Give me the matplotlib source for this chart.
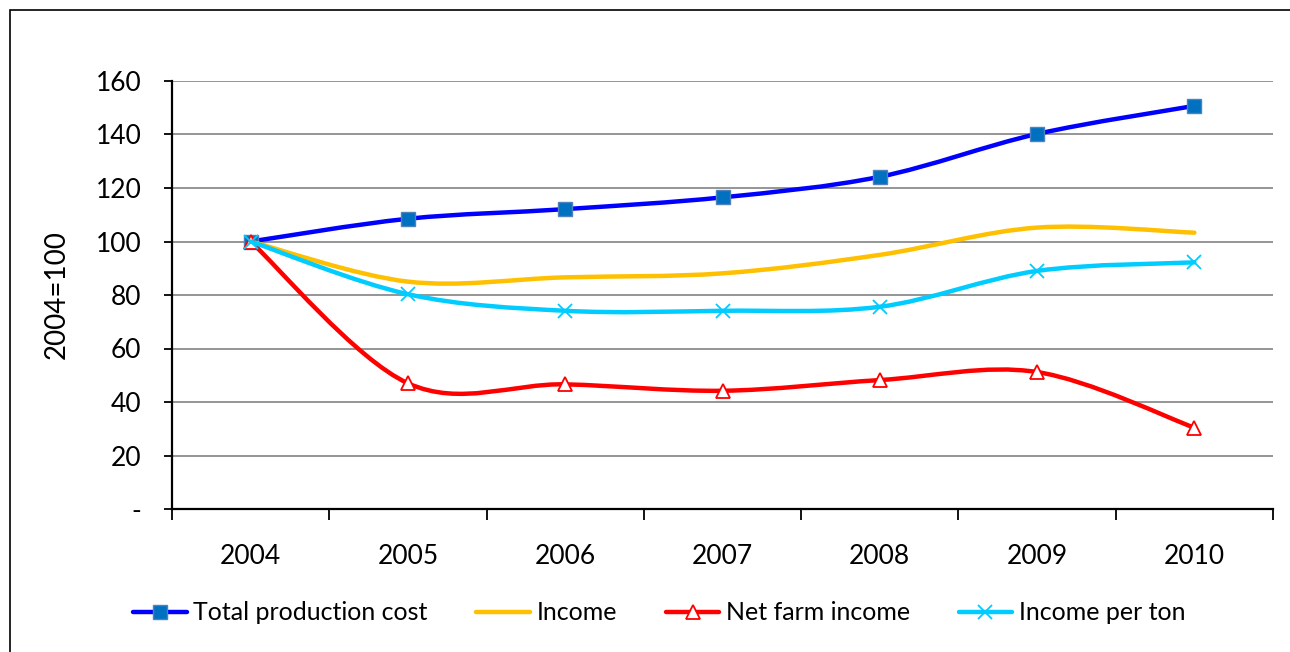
#!/usr/bin/env python3
"""Index chart (2004=100) of production cost and income, smoothed lines."""

import numpy as np
import matplotlib
matplotlib.use('Agg')
import matplotlib.pyplot as plt
from matplotlib.path import Path
from matplotlib.patches import PathPatch, Rectangle
from matplotlib.lines import Line2D

years = ['2004', '2005', '2006', '2007', '2008', '2009', '2010']
total_cost = [100, 108.5, 112.1, 116.5, 124.2, 140.2, 150.7]
income = [100, 85.0, 86.6, 88.1, 95.0, 105.2, 103.3]
net_farm_income = [100, 47.0, 46.6, 44.2, 48.2, 51.2, 30.4]
income_per_ton = [100, 80.3, 74.1, 74.1, 75.6, 89.0, 92.2]

y_ticks = [0, 20, 40, 60, 80, 100, 120, 140, 160]
y_tick_labels = ['-', '20', '40', '60', '80', '100', '120', '140', '160']

plt.rcParams['font.family'] = ['Lato', 'DejaVu Sans']


def smooth_path(xs, ys):
    """Bezier path through the points (Excel style smoothed line)."""
    pts = np.column_stack([xs, ys]).astype(float)
    n = len(pts)
    verts = [pts[0]]
    codes = [Path.MOVETO]
    for i in range(n - 1):
        p0 = pts[max(i - 1, 0)]
        p1 = pts[i]
        p2 = pts[i + 1]
        p3 = pts[min(i + 2, n - 1)]
        c1 = p1 + (p2 - p0) / 6.0
        c2 = p2 - (p3 - p1) / 6.0
        verts += [c1, c2, p2]
        codes += [Path.CURVE4] * 3
    return Path(verts, codes)


fig = plt.figure(figsize=(12.9, 6.52), dpi=100)
fig.patches.append(Rectangle((10 / 1290, -0.1), 1.2, 1 - 10 / 652 + 0.1,
                             transform=fig.transFigure, fill=False,
                             edgecolor='black', linewidth=1.2))

ax = fig.add_axes([172 / 1290, 1 - 509 / 652, 1101 / 1290, 428 / 652])
x = np.arange(len(years))

series = [
    ('Total production cost', total_cost, '#0000FF',
     dict(marker='s', markersize=10.5, markerfacecolor='#0070C0', markeredgecolor='#4F81BD', markeredgewidth=1)),
    ('Income', income, '#FFC000', dict(marker='None')),
    ('Net farm income', net_farm_income, '#FF0000',
     dict(marker='^', markersize=10, markerfacecolor='white', markeredgecolor='#FF0000', markeredgewidth=1.3)),
    ('Income per ton', income_per_ton, '#00CCFF',
     dict(marker='x', markersize=10, markeredgecolor='#00CCFF', markeredgewidth=1.3)),
]

handles = []
for z, (label, vals, color, mk) in enumerate(series):
    patch = PathPatch(smooth_path(x, vals), facecolor='none', edgecolor=color,
                      linewidth=3.2, capstyle='round', zorder=3 + z)
    ax.add_patch(patch)
    if mk['marker'] != 'None':
        ax.plot(x, vals, linestyle='none', zorder=3.5 + z, clip_on=False, **mk)
    handles.append(Line2D([], [], color=color, linewidth=3.2, solid_capstyle='round', label=label, **mk))

ax.set_xlim(-0.5, len(years) - 0.5)
ax.set_ylim(0, 160)

ax.set_yticks(y_ticks)
ax.set_yticklabels(y_tick_labels, fontsize=19)
ax.tick_params(axis='y', direction='out', length=6, width=1.3, pad=16)

ax.set_xticks(np.arange(-0.5, len(years), 1.0))
ax.set_xticklabels([])
ax.set_xticks(x, minor=True)
ax.set_xticklabels(years, minor=True, fontsize=19)
ax.tick_params(axis='x', which='major', direction='out', length=8, width=1.3)
ax.tick_params(axis='x', which='minor', length=0, pad=25)

ax.grid(True, axis='y', color='#8c8c8c', linewidth=1.3)
ax.set_axisbelow(True)
for side in ['top', 'right']:
    ax.spines[side].set_visible(False)
for side in ['left', 'bottom']:
    ax.spines[side].set_linewidth(1.6)

ax.set_ylabel('2004=100', fontsize=20)
ax.yaxis.set_label_coords(-0.093, 0.5)

fig.legend(handles=handles, loc='center', bbox_to_anchor=(0.511, 1 - 613 / 652),
           ncol=4, frameon=False, fontsize=18, handlelength=2.15,
           handletextpad=0.25, columnspacing=1.95)

fig.savefig('out.png', dpi=100)
